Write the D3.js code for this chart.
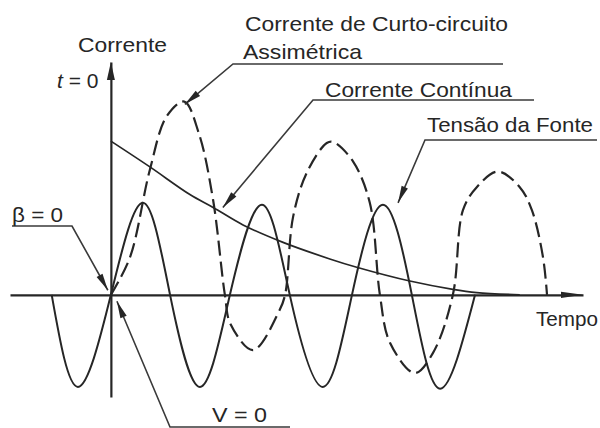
<!DOCTYPE html>
<html>
<head>
<meta charset="utf-8">
<script src="https://cdn.jsdelivr.net/npm/d3@7"></script>
<style>
  html, body { margin: 0; padding: 0; background: #fff; overflow: hidden; }
  svg { display: block; }
</style>
</head>
<body>
<svg id="chart" width="600" height="428"></svg>
<script>
// Time in electrical degrees (wt); current in per-unit of the source amplitude.
const timeDomain = [-300, 1404];
const currentDomain = [-1.11, 2.53];

// Source voltage (solid sine)
const sourceWave = [
  [-176, 0], [-98, -1.0], [0, 0], [95, 1.0], [176, 0], [265, -1.0],
  [354, 0], [449, 0.98], [532, 0], [630, -1.0], [717, 0], [809, 0.98],
  [895, 0], [979, -1.02], [1083, 0]
];

// Asymmetrical short-circuit current (dashed)
const asymCurrent = [
  [0, 0], [57, 0.41], [116, 1.36], [166, 1.94], [218, 2.10], [262, 1.75],
  [304, 1.03], [339, 0], [356, -0.32], [423, -0.60], [500, -0.18], [518, 0],
  [542, 0.85], [583, 1.33], [642, 1.65], [662, 1.66], [720, 1.45], [770, 1.0],
  [800, 0], [830, -0.52], [904, -0.85], [958, -0.63], [1017, 0], [1047, 0.92],
  [1088, 1.17], [1151, 1.34], [1216, 1.17], [1252, 0.92], [1285, 0.41], [1297, 0]
];

// Decaying DC component
const dcComponent = [
  [0, 1.67], [116, 1.39], [235, 1.09], [304, 0.95], [393, 0.76], [512, 0.57],
  [651, 0.39], [731, 0.30], [889, 0.15], [1017, 0.06], [1088, 0.025], [1216, 0]
];

// Text labels
const labelTexts = {
  asym1: "Corrente de Curto-circuito",
  asym2: "Assimétrica",
  dc: "Corrente Contínua",
  source: "Tensão da Fonte",
  yTitle: "Corrente",
  xTitle: "Tempo",
  beta: "β = 0",
  volt: "V = 0"
};

const svg = d3.select("#chart");
const ink = "#262626";
const font = "'Liberation Sans', Arial, Helvetica, sans-serif";

const x = d3.scaleLinear().domain(timeDomain).range([10, 583]);
const y = d3.scaleLinear().domain(currentDomain).range([397, 62]);

// ---- axes ----
const xAxis = svg.append("g")
  .attr("transform", `translate(0,${y(0)})`)
  .call(d3.axisBottom(x).tickValues([]).tickSizeOuter(0));
const yAxis = svg.append("g")
  .attr("transform", `translate(${x(0)},0)`)
  .call(d3.axisLeft(y).tickValues([]).tickSizeOuter(0));
[xAxis, yAxis].forEach(g => g.select(".domain")
  .attr("stroke", ink).attr("stroke-width", 2.2));

function arrowHead(tip, from, len, hw) {
  const dx = tip[0] - from[0], dy = tip[1] - from[1];
  const d = Math.hypot(dx, dy) || 1;
  const ux = dx / d, uy = dy / d;
  const bx = tip[0] - ux * len, by = tip[1] - uy * len;
  const px = -uy * hw, py = ux * hw;
  return `M${tip[0]},${tip[1]}L${bx + px},${by + py}L${bx - px},${by - py}Z`;
}

// axis arrowheads
const xEnd = [x.range()[1], y(0)];
svg.append("path").attr("d", arrowHead(xEnd, [xEnd[0] - 10, xEnd[1]], 22, 3.2)).attr("fill", ink);
const yEnd = [x(0), y.range()[1]];
svg.append("path").attr("d", arrowHead(yEnd, [yEnd[0], yEnd[1] + 10], 18, 4)).attr("fill", ink);

// ---- curves ----
const lineNatural = d3.line().x(d => x(d[0])).y(d => y(d[1])).curve(d3.curveNatural);
const lineCR = d3.line().x(d => x(d[0])).y(d => y(d[1])).curve(d3.curveCatmullRom.alpha(0.5));

svg.append("path").datum(sourceWave)
  .attr("d", lineNatural).attr("fill", "none")
  .attr("stroke", ink).attr("stroke-width", 2);

svg.append("path").datum(dcComponent)
  .attr("d", lineCR).attr("fill", "none")
  .attr("stroke", ink).attr("stroke-width", 1.7);

svg.append("path").datum(asymCurrent)
  .attr("d", lineCR).attr("fill", "none")
  .attr("stroke", ink).attr("stroke-width", 2.2)
  .attr("stroke-dasharray", "15,6");

// ---- leaders with arrowheads ----
const leaders = [
  { path: [[503, 64], [233, 64]], tip: [220, 2.07] },
  { path: [[534, 100], [313, 100]], tip: [333, 0.95] },
  { path: [[597, 140], [425, 140]], tip: [854, 1.0] },
  { path: [[12, 226], [72, 226]], tip: [-9, 0.05] },
  { path: [[290, 427], [170, 427]], tip: [18, -0.07] }
];
leaders.forEach(l => {
  const tip = [x(l.tip[0]), y(l.tip[1])];
  const pts = l.path.concat([tip]);
  svg.append("path")
    .attr("d", d3.line()(pts))
    .attr("fill", "none").attr("stroke", "#3a3a3a").attr("stroke-width", 1.6);
  svg.append("path")
    .attr("d", arrowHead(tip, l.path[l.path.length - 1], 17, 3.4))
    .attr("fill", ink);
});

// ---- text ----
const labels = [
  { t: labelTexts.asym1, x: 245, y: 31, w: 263, s: 21 },
  { t: labelTexts.asym2, x: 243, y: 59, w: 119, s: 21 },
  { t: labelTexts.dc, x: 325, y: 97, w: 187, s: 21 },
  { t: labelTexts.source, x: 427, y: 132, w: 166, s: 21 },
  { t: labelTexts.yTitle, x: 78, y: 52, w: 89, s: 21 },
  { t: labelTexts.beta, x: 12, y: 222, w: 51, s: 21 },
  { t: labelTexts.volt, x: 212, y: 422, w: 55, s: 21 },
  { t: labelTexts.xTitle, x: 536, y: 326, w: 62, s: 21 }
];
labels.forEach(l => {
  const txt = svg.append("text")
    .attr("x", l.x).attr("y", l.y)
    .attr("font-family", font).attr("font-size", l.s)
    .attr("fill", ink).text(l.t);
  if (l.w) txt.attr("textLength", l.w).attr("lengthAdjust", "spacingAndGlyphs");
});

// t = 0 marker beside the current axis
const t0 = svg.append("text")
  .attr("x", 57).attr("y", 88)
  .attr("font-family", font).attr("font-size", 21).attr("fill", ink);
t0.append("tspan").attr("font-style", "italic").text("t");
t0.append("tspan").text(" = 0");
</script>
</body>
</html>
